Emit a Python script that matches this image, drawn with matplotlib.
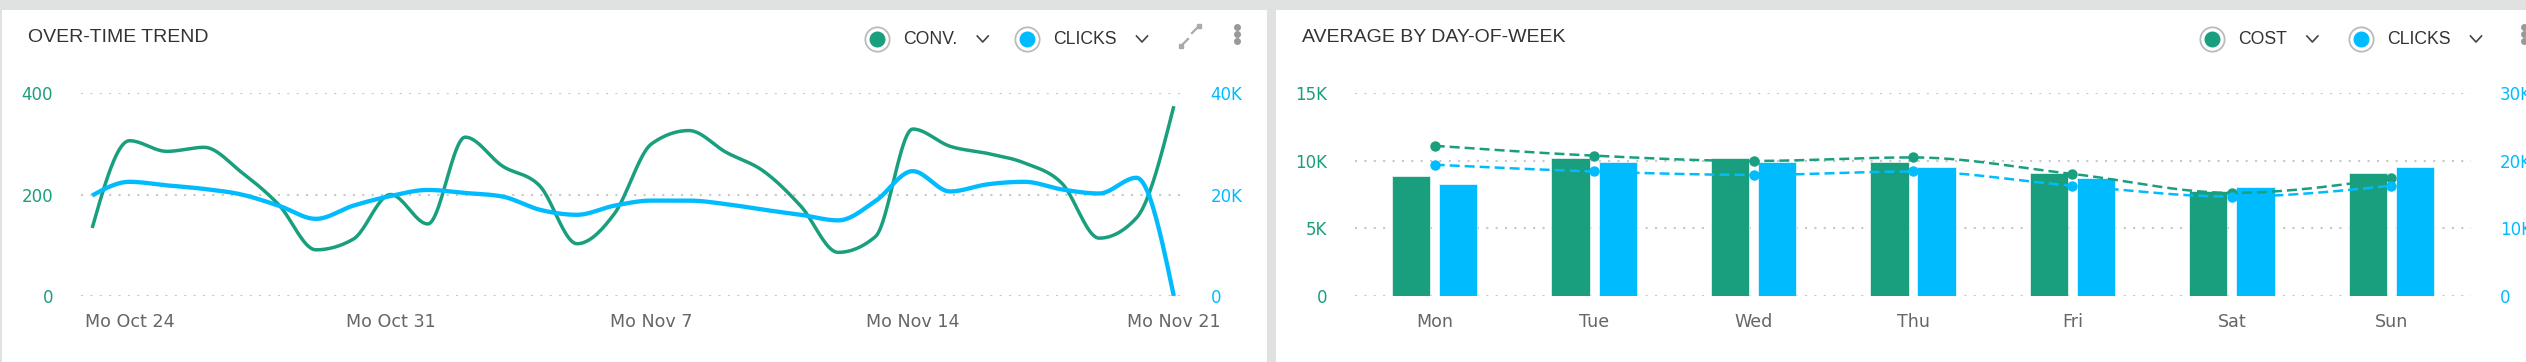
import numpy as np
import pandas as pd
import matplotlib
matplotlib.use('Agg')
import matplotlib.pyplot as plt
from matplotlib.patches import Rectangle
from matplotlib.lines import Line2D
from matplotlib.ticker import FuncFormatter

# ---- data -------------------------------------------------------------
dates = pd.date_range('2022-10-23', periods=30)
conv = [134, 306, 285, 293, 244, 180, 91, 112, 200, 142,
        313, 256, 217, 103, 162, 300, 326, 283, 246, 177,
        86, 117, 329, 295, 281, 262, 222, 114, 154, 374]
clicks = [19800, 22500, 21800, 21100, 20000, 17800, 15200, 17800, 19700, 20900,
          20300, 19600, 17000, 16000, 17800, 18800, 18800, 18100, 17000, 16000,
          14900, 18700, 24600, 20600, 22000, 22500, 21000, 20200, 23300, 0]

days = ['Mon', 'Tue', 'Wed', 'Thu', 'Fri', 'Sat', 'Sun']
cost_avg = [8840, 10170, 10170, 9870, 9110, 7760, 9110]
clicks_avg = [16600, 19800, 19800, 19000, 17400, 16060, 19000]
cost_prev = [11100, 10370, 9980, 10240, 9020, 7620, 8720]
clicks_prev = [19400, 18400, 17900, 18400, 16300, 14700, 16300]

GREEN = '#1a9f7e'
BLUE = '#00bcff'
BG = '#e0e2e1'
W, H = 2526, 362


def fx(px):
    return px / W


def fy(py):
    return 1 - py / H


def monotone(xs, ys, n=24):
    # smooth curve like d3.curveMonotoneX, only for drawing
    xs = np.asarray(xs, float)
    ys = np.asarray(ys, float)
    h = np.diff(xs)
    s = np.diff(ys) / h
    t = np.zeros(len(xs))
    for i in range(1, len(xs) - 1):
        s0, s1 = s[i - 1], s[i]
        p = (s0 * h[i] + s1 * h[i - 1]) / (h[i - 1] + h[i])
        sg = (1 if s0 >= 0 else -1) + (1 if s1 >= 0 else -1)
        t[i] = sg * min(abs(s0), abs(s1), 0.5 * abs(p))
    t[0] = (3 * s[0] - t[1]) / 2
    t[-1] = (3 * s[-1] - t[-2]) / 2
    out_x, out_y = [], []
    for i in range(len(xs) - 1):
        u = np.linspace(0, 1, n, endpoint=(i == len(xs) - 2))
        h00 = 2 * u**3 - 3 * u**2 + 1
        h10 = u**3 - 2 * u**2 + u
        h01 = -2 * u**3 + 3 * u**2
        h11 = u**3 - u**2
        out_x.append(xs[i] + u * h[i])
        out_y.append(h00 * ys[i] + h10 * h[i] * t[i] + h01 * ys[i + 1] + h11 * h[i] * t[i + 1])
    return np.concatenate(out_x), np.concatenate(out_y)


def kfmt(v, pos):
    return '0' if v == 0 else f'{v/1000:g}K'


fig = plt.figure(figsize=(W / 100, H / 100), dpi=100, facecolor=BG)

# white panels
fig.add_artist(Rectangle((fx(2), 0), fx(1267) - fx(2), fy(10), transform=fig.transFigure,
                         facecolor='white', edgecolor='none', zorder=0))
fig.add_artist(Rectangle((fx(1276), 0), 1 - fx(1276), fy(10), transform=fig.transFigure,
                         facecolor='white', edgecolor='none', zorder=0))


def header(title, tx, items, kebab_x, expand_x=None):
    fig.text(fx(tx), fy(37), title, fontsize=14, color='#333333', family='Liberation Sans',
             va='center', ha='left')
    for cx, label, col in items:
        fig.add_artist(Line2D([fx(cx)], [fy(39)], transform=fig.transFigure, marker='o',
                              markersize=17.5, markerfacecolor='white', markeredgecolor='#bbbbbb',
                              markeredgewidth=1.3, linestyle='none'))
        fig.add_artist(Line2D([fx(cx)], [fy(39)], transform=fig.transFigure, marker='o',
                              markersize=10.5, markerfacecolor=col, markeredgecolor=col,
                              linestyle='none'))
        t = fig.text(fx(cx + 26), fy(40), label, fontsize=12.7, color='#333333',
                     family='Liberation Sans', va='center', ha='left')
        fig.canvas.draw()
        bb = t.get_window_extent()
        vx = bb.x1 + 20
        fig.add_artist(Line2D([fx(vx), fx(vx + 5.5), fx(vx + 11)], [fy(36), fy(42), fy(36)],
                              transform=fig.transFigure, color='#444444', lw=1.2))
    if expand_x is not None:
        fig.add_artist(Line2D([fx(expand_x - 8), fx(expand_x - 2)], [fy(45), fy(39)],
                              transform=fig.transFigure, color='#aaaaaa', lw=1.6))
        fig.add_artist(Line2D([fx(expand_x + 2), fx(expand_x + 8)], [fy(33), fy(27)],
                              transform=fig.transFigure, color='#aaaaaa', lw=1.6))
        for px, py in [(expand_x - 9, 46), (expand_x + 9, 26)]:
            fig.add_artist(Line2D([fx(px)], [fy(py)], transform=fig.transFigure, marker='s',
                                  markersize=3.2, color='#aaaaaa', linestyle='none'))
    fig.add_artist(Line2D([fx(kebab_x)] * 3, [fy(27), fy(34), fy(41)], transform=fig.transFigure,
                          marker='o', markersize=4, color='#999999', linestyle='none'))


def style(ax, ax2, lcol, rcol, lpad, rpad):
    for a in (ax, ax2):
        for sp in a.spines.values():
            sp.set_visible(False)
        a.tick_params(length=0)
    ax.tick_params(axis='y', colors=lcol, labelsize=12, pad=lpad)
    ax2.tick_params(axis='y', colors=rcol, labelsize=12, pad=rpad)
    ax.tick_params(axis='x', colors='#666666', labelsize=12.6, pad=12)
    ax.grid(axis='y', color='#c8c8c8', linestyle=(0, (1, 3.5)), linewidth=1.5)
    ax.set_axisbelow(True)
    ax.patch.set_visible(False)


# ---- left: over-time trend ---------------------------------------------
ax = fig.add_axes([fx(81), fy(296), fx(1185) - fx(81), fy(93) - fy(296)])
ax2 = ax.twinx()
x = np.arange(len(dates))
sx, sy = monotone(x, conv)
ax.plot(sx, sy, color=GREEN, lw=2.5, solid_capstyle='butt')
sx, sy = monotone(x, clicks)
ax2.plot(sx, sy, color=BLUE, lw=3.1, solid_capstyle='butt')
ax.set_xlim(-0.3, len(dates) - 0.7)
ax.set_ylim(0, 400)
ax2.set_ylim(0, 40000)
ax.set_yticks([0, 200, 400])
ax2.set_yticks([0, 20000, 40000])
ax2.yaxis.set_major_formatter(FuncFormatter(kfmt))
mondays = [i for i, d in enumerate(dates) if d.weekday() == 0]
ax.set_xticks(mondays)
ax.set_xticklabels([f'Mo {dates[i]:%b} {dates[i].day}' for i in mondays])
style(ax, ax2, GREEN, BLUE, 20, 18.5)

header('OVER-TIME TREND', 28, [(877, 'CONV.', GREEN), (1027, 'CLICKS', BLUE)], 1237, expand_x=1190)

# ---- right: average by day-of-week -------------------------------------
bx = fig.add_axes([fx(1355), fy(296), fx(2471) - fx(1355), fy(93) - fy(296)])
bx2 = bx.twinx()
xd = np.arange(len(days))
bx.bar(xd - 0.148, cost_avg, width=0.24, color=GREEN, edgecolor='#dff2ec', linewidth=0.6, zorder=2)
bx2.bar(xd + 0.148, clicks_avg, width=0.24, color=BLUE, edgecolor='#dff5ff', linewidth=0.6, zorder=2)
sx, sy = monotone(xd, cost_prev)
bx2.plot(sx, sy, color=GREEN, lw=1.8, dashes=(4, 2), transform=bx.transData, zorder=3)
bx2.plot(xd, cost_prev, 'o', color=GREEN, markersize=6.5, transform=bx.transData, zorder=4)
sx, sy = monotone(xd, clicks_prev)
bx2.plot(sx, sy, color=BLUE, lw=1.8, dashes=(4, 2), zorder=3)
bx2.plot(xd, clicks_prev, 'o', color=BLUE, markersize=6.5, zorder=4)
bx.set_xlim(-0.5, len(days) - 0.5)
bx.set_ylim(0, 15000)
bx2.set_ylim(0, 30000)
bx.set_yticks([0, 5000, 10000, 15000])
bx2.set_yticks([0, 10000, 20000, 30000])
bx.yaxis.set_major_formatter(FuncFormatter(kfmt))
bx2.yaxis.set_major_formatter(FuncFormatter(kfmt))
bx.set_xticks(xd)
bx.set_xticklabels(days)
style(bx, bx2, GREEN, BLUE, 20, 21)

header('AVERAGE BY DAY-OF-WEEK', 1302, [(2212, 'COST', GREEN), (2361, 'CLICKS', BLUE)], 2524)

fig.savefig('out.png', dpi=100, facecolor=BG)
